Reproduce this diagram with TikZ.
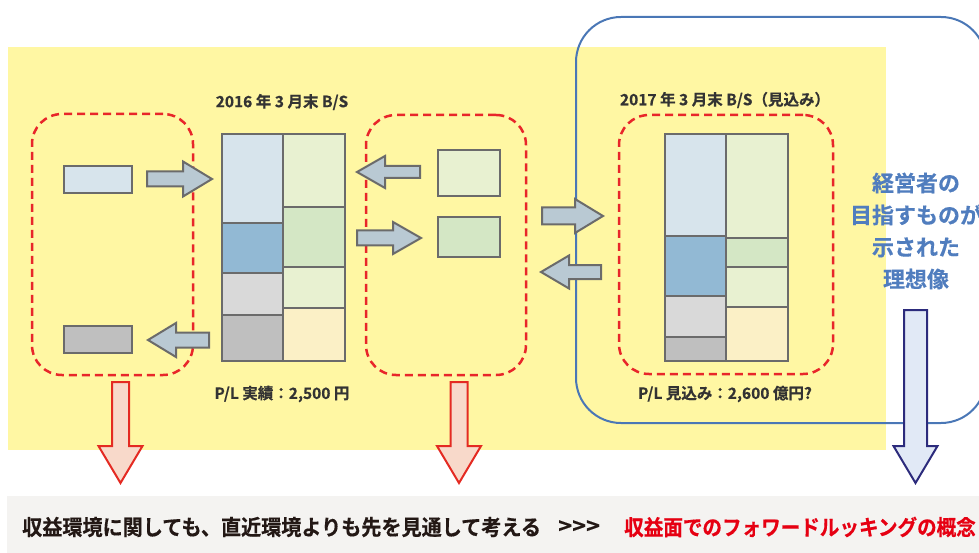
\documentclass[tikz,border=0pt]{standalone}
\usepackage{fontspec}
\newfontfamily\jp{Noto Sans CJK JP Bold}[FakeBold=0.4]
\definecolor{ybg}{HTML}{FFF7A3}
\definecolor{bandgray}{HTML}{F4F3F1}
\definecolor{bline}{HTML}{4A77B6}
\definecolor{rdash}{HTML}{E8262A}
\definecolor{cellline}{HTML}{6B6B6B}
\definecolor{lblue}{HTML}{D7E4EC}
\definecolor{mblue}{HTML}{92B9D4}
\definecolor{lgray}{HTML}{D9D9D9}
\definecolor{mgray}{HTML}{BFBFBF}
\definecolor{lgreen}{HTML}{E8F1D1}
\definecolor{mgreen}{HTML}{D4E7C5}
\definecolor{cream}{HTML}{FBF0C6}
\definecolor{arrfill}{HTML}{B9C9D3}
\definecolor{redfill}{HTML}{F8D9CA}
\definecolor{redline}{HTML}{E42A22}
\definecolor{navy}{HTML}{2C2B7C}
\definecolor{bluefill}{HTML}{E1E9F6}
\definecolor{titletext}{HTML}{333333}
\definecolor{idealc}{HTML}{507DBE}
\definecolor{btext}{HTML}{231815}
\definecolor{rtext}{HTML}{E60012}
\newcommand{\cellbox}[6]{\node[cell, fill=#6, minimum width={(#4-#2)*1pt}, minimum height={(#5-#3)*1pt}] (#1) at ({(#2+#4)/2},{(#3+#5)/2}) {};}
\tikzset{
  cell/.style={draw=cellline, line width=1.8pt, inner sep=0pt, outer sep=0pt},
  dbox/.style={draw=rdash, line width=2.5pt, dash pattern=on 8pt off 5pt, rounded corners=30pt, inner sep=0pt},
  garrow/.style={draw=cellline, fill=arrfill, line width=2pt},
  rarrow/.style={draw=redline, fill=redfill, line width=2pt},
  barrowst/.style={draw=navy, fill=bluefill, line width=2pt},
  titletxt/.style={font=\jp\fontsize{15.5}{18}\selectfont, text=titletext, inner sep=0pt},
  idealtxt/.style={font=\jp\fontsize{22}{32}\selectfont, text=idealc, align=center, inner sep=0pt},
  bandtxt/.style={font=\jp\fontsize{21.5}{24}\selectfont, inner sep=0pt, anchor=west},
  pics/barrow/.style args={#1/#2/#3/#4}{code={
    \draw[pic actions] (0,-#2) -- ({#1-#4},-#2) -- ({#1-#4},-#3) -- (#1,0) -- ({#1-#4},#3) -- ({#1-#4},#2) -- (0,#2) -- cycle;}}
}
\begin{document}
\begin{tikzpicture}[x=1pt,y=-1pt]
\useasboundingbox (0,0) rectangle (979,553);
\clip (0,0) rectangle (979,553);
% backgrounds
\fill[ybg] (8,47) rectangle (886,450);
\fill[bandgray] (7,496) rectangle (979,553);
% blue ideal frame
\draw[bline, line width=2pt, rounded corners=45pt] (576,17) rectangle (986,423);
% dashed groups
\node[dbox, minimum width=161pt, minimum height=261pt] (dl) at (112.5,244.5) {};
\node[dbox, minimum width=160pt, minimum height=260pt] (dm) at (446,245) {};
\node[dbox, minimum width=214pt, minimum height=259pt] (dr) at (726,244.5) {};
% small boxes
\cellbox{asset}{64}{166}{132}{193}{lblue}
\cellbox{cost}{64}{326}{132}{353}{mgray}
\cellbox{liab}{438}{150}{500}{196}{lgreen}
\cellbox{eq}{438}{217}{500}{257}{mgreen}
% B/S 2016
\cellbox{a1}{222}{134}{283}{223}{lblue}
\cellbox{a2}{222}{223}{283}{273}{mblue}
\cellbox{a3}{222}{273}{283}{315}{lgray}
\cellbox{a4}{222}{315}{283}{361}{mgray}
\cellbox{b1}{283}{134}{345}{207}{lgreen}
\cellbox{b2}{283}{207}{345}{267}{mgreen}
\cellbox{b3}{283}{267}{345}{308}{lgreen}
\cellbox{b4}{283}{308}{345}{361}{cream}
% B/S 2017
\cellbox{c1}{665}{134}{726}{236}{lblue}
\cellbox{c2}{665}{236}{726}{296}{mblue}
\cellbox{c3}{665}{296}{726}{337}{lgray}
\cellbox{c4}{665}{337}{726}{361}{mgray}
\cellbox{d1}{726}{134}{788}{238}{lgreen}
\cellbox{d2}{726}{238}{788}{267}{mgreen}
\cellbox{d3}{726}{267}{788}{307}{lgreen}
\cellbox{d4}{726}{307}{788}{361}{cream}
% block arrows
\pic[garrow] at (147,179) {barrow=65/7.5/17.5/29};
\pic[garrow, rotate=180] at (209,340) {barrow=61/7.5/17/28};
\pic[garrow, rotate=180] at (420,172) {barrow=63/6/16/28};
\pic[garrow] at (357,238) {barrow=64/7.5/16/28};
\pic[garrow] at (542,216) {barrow=61/8.5/17/28};
\pic[garrow, rotate=180] at (601,272) {barrow=60/7/16.5/28};
\pic[rarrow, rotate=-90] at (120.5,382) {barrow=101/8.5/22/37};
\pic[rarrow, rotate=-90] at (459,382) {barrow=101/8.5/22/37};
\pic[barrowst, rotate=-90] at (915.5,310) {barrow=173/11.5/22/37};
% texts
\node[titletxt] (t16) at (282,102) {2016 年 3 月末 B/S};
\node[titletxt] (t17) at (725,100) {2017 年 3 月末 B/S（見込み）};
\node[titletxt] (pl16) at (282,394) {P/L 実績：2,500 円};
\node[titletxt] (pl17) at (725,394) {P/L 見込み：2,600 億円?};
\node[idealtxt] (ideal) at (916,231) {経営者の\\目指すものが\\示された\\理想像};
\node[bandtxt, text=btext] (msg) at (22,527) {\scalebox{0.935}[1]{収益環境に関しても、直近環境よりも先を見通して考える}};
\node[bandtxt, text=btext] (gt) at (558,527) {\scalebox{1.1}[1]{>>>}};
\node[bandtxt, text=rtext] (concept) at (624,527) {\scalebox{0.91}[1]{収益面でのフォワードルッキングの概念}};
\end{tikzpicture}
\end{document}
